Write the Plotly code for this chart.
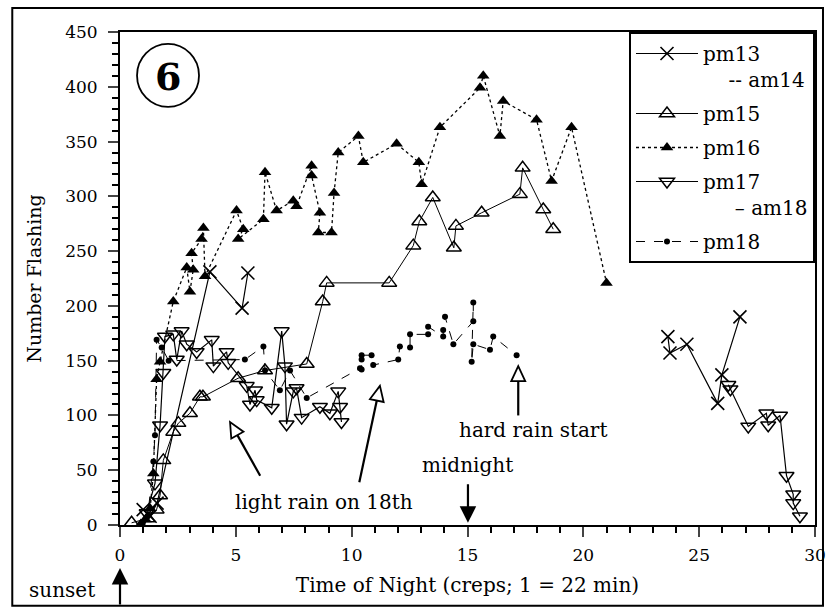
import plotly.graph_objects as go

# ---------------- data ----------------
pm13_x = [1.0, 1.3, 1.6, 3.88, 5.27, 5.52, None, 23.65, 23.74, 24.47, 25.8, 25.98, 26.76]
pm13_y = [14, 8, 20, 231, 198, 230, None, 172, 157, 165, 111, 137, 190]

pm15_x = [0.5, 1.2, 1.58, 1.73, 1.87, 2.3, 2.52, 3.02, 3.45, 3.58, 5.1, 6.26, 8.06,
          8.75, 8.92, 11.62, 12.66, 12.92, 13.5, 14.41, 14.5, 15.61, 17.26, 17.38, 18.27, 18.7]
pm15_y = [2, 6, 14, 27, 59, 85, 93, 102, 117, 117, 134, 141, 147,
          204, 221, 221, 255, 277, 299, 253, 273, 285, 302, 326, 288, 270]

pm16_x = [0.9, 1.1, 1.3, 1.44, 1.58, 1.73, 2.3, 2.88, 3.02, 3.16, 3.09, 3.52, 3.6, 3.67,
          5.03, 5.32, 5.1, 6.19, 6.26, 6.76, 7.48, 7.62, 8.27, 8.27, 8.63, 8.56, 9.13, 9.24,
          9.42, 10.29, 10.5, 11.94, 12.9, 13.02, 13.81, 15.54, 15.68, 16.4, 16.54, 17.98,
          18.63, 19.49, 21.0]
pm16_y = [1, 5, 15, 47, 133, 149, 204, 235, 213, 233, 248, 261, 271, 227,
          287, 270, 261, 279, 322, 287, 296, 291, 328, 319, 285, 267, 267, 303,
          340, 355, 331, 348, 331, 311, 363, 399, 410, 355, 387, 370,
          314, 363, 221]

pm17_x = [1.15, 1.51, 1.73, 1.87, 1.94, 2.3, 2.45, 2.66, 2.88, 3.31, 3.96, 4.03, 4.6, 4.67,
          5.47, 5.61, 5.83, 5.9, 6.55, 6.98, 7.12, 7.19, 7.48, 7.62, 7.84, 8.63, 9.06, 9.42,
          9.5, 9.56, None, 26.26, 26.35, 27.12, 27.9, 27.98, 28.49, 28.77, 29.06, 29.06, 29.35]
pm17_y = [11, 38, 91, 139, 172, 174, 151, 177, 165, 158, 169, 145, 158, 148,
          127, 110, 123, 114, 107, 177, 145, 92, 122, 125, 98, 108, 102, 122,
          108, 94, None, 128, 124, 90, 102, 91, 100, 45, 28, 20, 8]

pm18_x = [1.0, 1.2, 1.44, 1.51, 1.58, 1.8, 2.1, 5.39, 6.19, 6.26, 6.9, 7.34, 8.06,
          10.36, 10.43, 10.43, 10.43, 10.86, 10.93, 12.01, 12.08, 12.52, 12.52, 13.3, 13.3,
          13.95, 13.95, 14.03, 14.39, 15.25, 15.25, 15.18, 15.25, 15.97, 16.11, 17.12]
pm18_y = [3, 8, 58, 82, 169, 162, 150, 151, 163, 141, 123, 141, 116,
          143, 142, 151, 155, 155, 146, 151, 163, 162, 174, 174, 181,
          172, 178, 190, 165, 186, 203, 149, 165, 160, 172, 155]

x_ticks = [0, 5, 10, 15, 20, 25, 30]
y_ticks = [0, 50, 100, 150, 200, 250, 300, 350, 400, 450]

FONT = "DejaVu Serif"
NBSP = "\u00a0"

fig = go.Figure()

fig.add_trace(go.Scatter(
    x=pm13_x, y=pm13_y, name="pm13<br>" + NBSP * 4 + "-- am14", mode="lines+markers",
    legendgroup="g1",
    line=dict(color="black", width=1.2),
    marker=dict(symbol="x-thin", size=13, color="black", line=dict(width=1.6, color="black")),
    cliponaxis=False, connectgaps=False))
fig.add_trace(go.Scatter(
    x=pm15_x, y=pm15_y, name="pm15", mode="lines+markers", legendgroup="g2",
    line=dict(color="black", width=1.0),
    marker=dict(symbol="triangle-up-open", size=13, color="black", line=dict(width=1.5)),
    cliponaxis=False))
fig.add_trace(go.Scatter(
    x=pm16_x, y=pm16_y, name="pm16", mode="lines+markers", legendgroup="g3",
    line=dict(color="black", width=1.3, dash="dot"),
    marker=dict(symbol="triangle-up", size=11, color="black"),
    cliponaxis=False))
fig.add_trace(go.Scatter(
    x=pm17_x, y=pm17_y, name="pm17<br>" + NBSP * 5 + "– am18", mode="lines+markers",
    legendgroup="g4",
    line=dict(color="black", width=1.2),
    marker=dict(symbol="triangle-down-open", size=13, color="black", line=dict(width=1.5)),
    cliponaxis=False, connectgaps=False))
fig.add_trace(go.Scatter(
    x=pm18_x, y=pm18_y, name="pm18", mode="lines+markers", legendgroup="g5",
    line=dict(color="black", width=1.0, dash="dash"),
    marker=dict(symbol="circle", size=6, color="black"),
    cliponaxis=False))

# ---------------- decorations ----------------
PX_X = 695 / 30.0   # px per x unit
PX_Y = 493 / 450.0  # px per y unit
shapes = []


def open_arrow(tail, tip, L=15, W=7):
    # work in pixel space
    dx = (tip[0] - tail[0]) * PX_X
    dy = (tip[1] - tail[1]) * PX_Y
    n = (dx ** 2 + dy ** 2) ** 0.5
    ux, uy = dx / n, dy / n
    px, py = -uy, ux
    bx = tip[0] - ux * L / PX_X
    by = tip[1] - uy * L / PX_Y
    c1 = (bx + px * W / PX_X, by + py * W / PX_Y)
    c2 = (bx - px * W / PX_X, by - py * W / PX_Y)
    shapes.append(dict(type="line", xref="x", yref="y", x0=tail[0], y0=tail[1], x1=bx, y1=by,
                       line=dict(color="black", width=2.2)))
    path = "M %f,%f L %f,%f L %f,%f Z" % (tip[0], tip[1], c1[0], c1[1], c2[0], c2[1])
    shapes.append(dict(type="path", xref="x", yref="y", path=path, fillcolor="white",
                       line=dict(color="black", width=1.8)))


open_arrow((6.05, 45), (4.75, 94))
open_arrow((10.33, 39), (11.22, 127))
open_arrow((17.19, 100), (17.19, 145))

# outer frame
shapes.append(dict(type="rect", xref="paper", yref="paper",
                   x0=-0.155, x1=1.0115, y0=-0.164, y1=1.0487,
                   line=dict(color="black", width=2)))
# circle around "6"
shapes.append(dict(type="circle", xref="paper", yref="paper",
                   x0=0.0245, x1=0.1137, y0=0.848, y1=0.976,
                   line=dict(color="black", width=1.8)))


def txt(x, y, s, size=20, xref="x", yref="y", bold=False):
    return dict(x=x, y=y, xref=xref, yref=yref, text=s, showarrow=False,
                xanchor="center", yanchor="middle",
                font=dict(family=FONT, size=size, color="black",
                          weight="bold" if bold else "normal"))


annotations = [
    txt(0.069, 0.910, "6", size=38, xref="paper", yref="paper", bold=True),
    txt(8.8, 21, "light rain on 18th"),
    txt(17.83, 87, "hard rain start"),
    txt(15.02, 55, "midnight"),
    dict(x=15.02, y=2, xref="x", yref="y", text="", showarrow=True, ax=0, ay=-40,
         arrowhead=2, arrowsize=1.5, arrowwidth=2.2, arrowcolor="black"),
    txt(-0.083, -0.132, "sunset", xref="paper", yref="paper"),
    dict(x=0, y=-0.087, xref="x", yref="paper", text="", showarrow=True, ax=0, ay=38,
         arrowhead=2, arrowsize=1.5, arrowwidth=2.2, arrowcolor="black"),
]

fig.update_layout(
    width=826, height=609,
    margin=dict(l=120, r=11, t=32, b=84),
    paper_bgcolor="white", plot_bgcolor="white",
    font=dict(family=FONT, size=17, color="black"),
    shapes=shapes, annotations=annotations,
    showlegend=True,
    legend=dict(x=1, xanchor="right", y=1, yanchor="top", bgcolor="white",
                bordercolor="black", borderwidth=2, font=dict(family=FONT, size=20),
                itemwidth=62, valign="top", tracegroupgap=5),
)
fig.update_xaxes(
    range=[0, 30], tickvals=x_ticks, ticks="outside", ticklen=10, tickwidth=2,
    showline=True, linecolor="black", linewidth=2, mirror=True, showgrid=False, zeroline=False,
    tickfont=dict(family=FONT, size=17), automargin=False, ticklabelstandoff=4,
    minor=dict(dtick=1, ticks="outside", ticklen=6, tickwidth=1.5, tickcolor="black", showgrid=False),
    title=dict(text="Time of Night (creps; 1 = 22 min)", font=dict(family=FONT, size=20), standoff=14),
)
fig.update_yaxes(
    range=[0, 450], tickvals=y_ticks, ticks="outside", ticklen=10, tickwidth=2,
    showline=True, linecolor="black", linewidth=2, mirror=True, showgrid=False, zeroline=False,
    tickfont=dict(family=FONT, size=17), automargin=False, ticklabelstandoff=7,
    minor=dict(dtick=10, ticks="outside", ticklen=6, tickwidth=1.5, tickcolor="black", showgrid=False),
    title=dict(text="Number Flashing", font=dict(family=FONT, size=19), standoff=18),
)

fig.write_html("out.html", config={"displayModeBar": False},
               post_script="document.body.style.margin='0px';document.body.style.overflow='hidden';")
